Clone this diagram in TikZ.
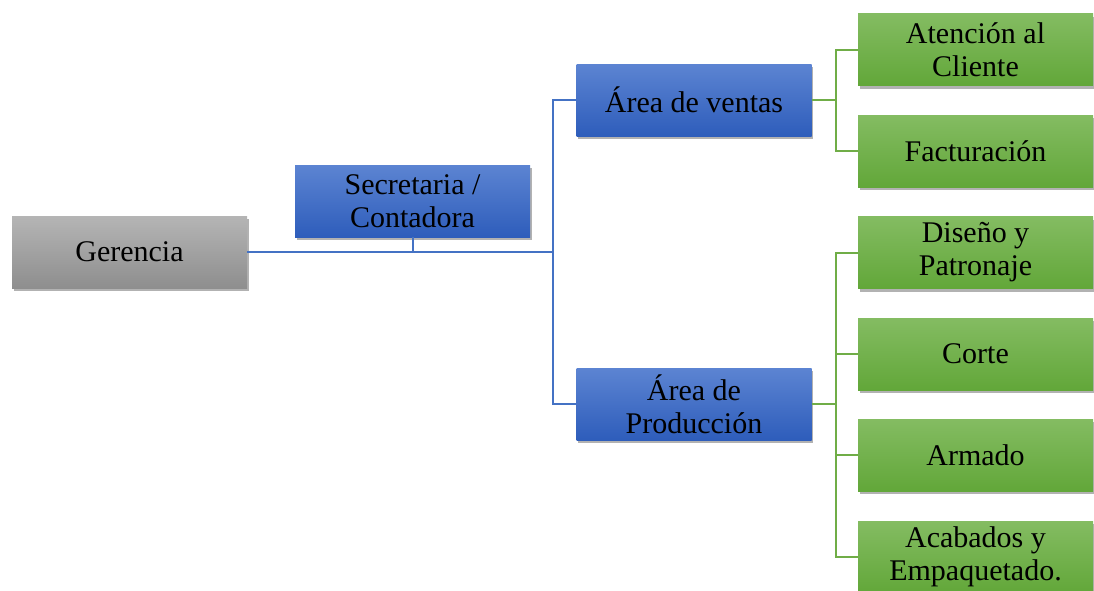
\documentclass[tikz,border=0pt]{standalone}
\usepackage{fontspec}
\setmainfont{Liberation Serif}
\usetikzlibrary{shadows}
\definecolor{bluetop}{HTML}{5C84D2}
\definecolor{bluebot}{HTML}{2E5DBB}
\definecolor{greentop}{HTML}{84BC62}
\definecolor{greenbot}{HTML}{62A739}
\definecolor{graytop}{HTML}{B5B5B5}
\definecolor{graybot}{HTML}{8E8E8E}
\definecolor{blueline}{HTML}{4472C4}
\definecolor{greenline}{HTML}{70AD47}
\tikzset{
  box/.style={rectangle, minimum width=235pt, minimum height=72pt, inner sep=0pt,
    align=center, font=\fontsize{30}{33}\selectfont,
    drop shadow={shadow xshift=1.5pt, shadow yshift=-3pt, opacity=0.3, fill=black}},
  bluebox/.style={box, top color=bluetop, bottom color=bluebot},
  greenbox/.style={box, top color=greentop, bottom color=greenbot},
  graybox/.style={box, top color=graytop, bottom color=graybot},
  bconn/.style={draw=blueline, line width=2pt},
  gconn/.style={draw=greenline, line width=2pt},
}
\begin{document}
\begin{tikzpicture}[x=1pt,y=-1pt]
\useasboundingbox (0,0) rectangle (1094,590);
\coordinate (bx) at (553,252);
\coordinate (gv) at (836,100);
\coordinate (gp) at (836,404);
\node[graybox] (ger) at (129.5,252) {Gerencia};
\node[bluebox] (sec) at (412.5,201) {Secretaria /\\Contadora};
\node[bluebox] (ven) at (694,100) {Área de ventas};
\node[bluebox] (pro) at (694,404) {Área de\\Producción};
\node[greenbox] (ate) at (975.5,49.5) {Atención al\\Cliente};
\node[greenbox] (fac) at (975.5,151) {Facturación};
\node[greenbox] (dis) at (975.5,252.5) {Diseño y\\Patronaje};
\node[greenbox] (cor) at (975.5,354) {Corte};
\node[greenbox] (arm) at (975.5,455) {Armado};
\node[greenbox] (aca) at (975.5,557) {Acabados y\\Empaquetado.};
\draw[bconn] (ger.east) -- (bx);
\draw[bconn] (sec.south) -- (sec.south |- bx);
\draw[bconn] (ven.west) -| (bx) |- (pro.west);
\draw[gconn] (ven.east) -- (gv);
\draw[gconn] (gv) |- (ate.west);
\draw[gconn] (gv) |- (fac.west);
\draw[gconn] (pro.east) -- (gp);
\draw[gconn] (gp) |- (dis.west);
\draw[gconn] (gp) |- (cor.west);
\draw[gconn] (gp) |- (arm.west);
\draw[gconn] (gp) |- (aca.west);
\end{tikzpicture}
\end{document}
